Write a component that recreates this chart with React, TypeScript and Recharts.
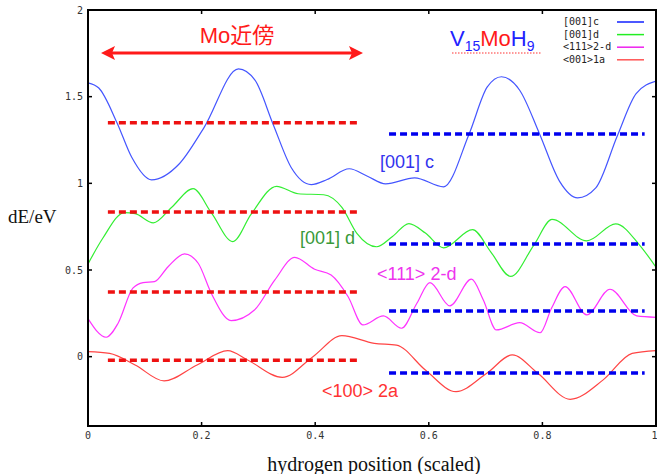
import React from 'react';
import { LineChart, Line, XAxis, YAxis } from 'recharts';

// energy profiles along the hop path, [position, dE]
const path001c: [number, number][] = [
  [0, 1.58], [0.019, 1.55], [0.051, 1.35], [0.077, 1.15], [0.112, 1.02], [0.16, 1.11],
  [0.204, 1.32], [0.265, 1.66], [0.294, 1.595], [0.326, 1.34], [0.358, 1.09], [0.393, 0.993],
  [0.421, 1.022], [0.46, 1.084], [0.492, 1.041], [0.524, 0.997], [0.575, 1.032], [0.626, 0.98],
  [0.671, 1.285], [0.703, 1.556], [0.728, 1.615], [0.76, 1.537], [0.795, 1.285], [0.83, 1.013],
  [0.862, 0.916], [0.894, 0.974], [0.932, 1.275], [0.965, 1.518], [1, 1.59],
];
const path001d: [number, number][] = [
  [0, 0.535], [0.026, 0.683], [0.064, 0.831], [0.083, 0.825], [0.115, 0.772], [0.147, 0.861],
  [0.185, 0.969], [0.217, 0.831], [0.255, 0.664], [0.287, 0.821], [0.332, 0.983], [0.37, 0.94],
  [0.415, 0.934], [0.447, 0.861], [0.473, 0.713], [0.508, 0.634], [0.536, 0.693], [0.565, 0.768],
  [0.594, 0.713], [0.626, 0.628], [0.677, 0.733], [0.709, 0.605], [0.744, 0.463], [0.785, 0.644],
  [0.817, 0.792], [0.878, 0.668], [0.929, 0.766], [0.971, 0.644], [1, 0.516],
];
const path111: [number, number][] = [
  [0, 0.22], [0.032, 0.112], [0.053, 0.193], [0.079, 0.395], [0.097, 0.427], [0.117, 0.433],
  [0.141, 0.519], [0.17, 0.593], [0.194, 0.539], [0.217, 0.366], [0.252, 0.208], [0.293, 0.269],
  [0.329, 0.443], [0.364, 0.573], [0.399, 0.504], [0.428, 0.471], [0.458, 0.346], [0.484, 0.183],
  [0.52, 0.235], [0.552, 0.164], [0.579, 0.308], [0.602, 0.427], [0.637, 0.293], [0.675, 0.447],
  [0.696, 0.327], [0.719, 0.154], [0.76, 0.196], [0.796, 0.138], [0.816, 0.279], [0.84, 0.404],
  [0.878, 0.241], [0.919, 0.389], [0.966, 0.235], [1, 0.227],
];
const path100: [number, number][] = [
  [0, 0.029], [0.038, 0.019], [0.083, -0.048], [0.134, -0.14], [0.192, -0.048], [0.246, 0.035],
  [0.281, -0.019], [0.342, -0.119], [0.396, 0], [0.447, 0.121], [0.504, 0.077], [0.543, 0.067],
  [0.594, -0.077], [0.648, -0.202], [0.702, -0.096], [0.747, 0.01], [0.792, -0.096],
  [0.849, -0.246], [0.907, -0.134], [0.958, 0.019], [1, 0.035],
];

// average levels: near Mo (left half) and away from Mo (right half)
const nearMoLevels = [1.35, 0.835, 0.373, -0.02];
const farLevels = [1.285, 0.65, 0.264, -0.094];
const nearMoSpan = [0.035, 0.475];
const farSpan = [0.53, 0.98];

const xDomain = [0, 1];
const yDomain = [-0.4, 2];
const xTicks = [0, 0.2, 0.4, 0.6, 0.8, 1];
const yTicks = [0, 0.5, 1, 1.5, 2];

const legendNames = ['[001]c', '[001]d', '<111>2-d', '<001>1a'];
const curveColors = ['#4455ff', '#33ee33', '#ff33ff', '#ff4444'];
const legendColors = ['#1020ff', '#22ee22', '#ee22ee', '#ff5555'];

const toPoints = (p: [number, number][]) => p.map(([x, y]) => ({ x, y }));
const levelPoints = (span: number[], y: number) => span.map((x) => ({ x, y }));

const tickFont = { fontFamily: '"DejaVu Sans Mono", monospace', fontSize: 10, fill: '#333' };
const frame = { stroke: '#000', strokeWidth: 2 };
const tickMark = { stroke: '#000', strokeWidth: 1.5 };

// plot box: chart margins + axis sizes put it here
const W = 657;
const H = 474;
const box = { left: 88, top: 10, right: 656, bottom: 426 };
const fx = (v: number) => box.left + ((v - xDomain[0]) / (xDomain[1] - xDomain[0])) * (box.right - box.left);
const fy = (v: number) => box.bottom - ((v - yDomain[0]) / (yDomain[1] - yDomain[0])) * (box.bottom - box.top);

export default function App() {
  const curves = [path001c, path001d, path111, path100];
  return (
    <div style={{ position: 'absolute', left: 0, top: 0, width: W, height: H, background: '#fff' }}>
      <LineChart
        width={W}
        height={H}
        margin={{ top: box.top, right: W - box.right, bottom: 0, left: 0 }}
      >
        <XAxis
          dataKey="x"
          type="number"
          domain={xDomain}
          ticks={xTicks}
          height={H - box.bottom}
          tickSize={-4}
          tickMargin={10}
          axisLine={frame}
          tickLine={tickMark}
          tick={tickFont}
          allowDataOverflow
        />
        <YAxis
          type="number"
          domain={yDomain}
          ticks={yTicks}
          width={box.left}
          tickSize={-4}
          tickMargin={9}
          axisLine={frame}
          tickLine={tickMark}
          tick={tickFont}
          allowDataOverflow
        />
        {curves.map((c, i) => (
          <Line
            key={legendNames[i]}
            data={toPoints(c)}
            dataKey="y"
            type="monotone"
            stroke={curveColors[i]}
            strokeWidth={1.2}
            dot={false}
            isAnimationActive={false}
          />
        ))}
        {nearMoLevels.map((v, i) => (
          <Line
            key={'near' + i}
            data={levelPoints(nearMoSpan, v)}
            dataKey="y"
            stroke="#ee1111"
            strokeWidth={3.5}
            strokeDasharray="7 4"
            dot={false}
            isAnimationActive={false}
          />
        ))}
        {farLevels.map((v, i) => (
          <Line
            key={'far' + i}
            data={levelPoints(farSpan, v)}
            dataKey="y"
            stroke="#0000ee"
            strokeWidth={3.5}
            strokeDasharray="7 4"
            dot={false}
            isAnimationActive={false}
          />
        ))}
      </LineChart>

      <svg width={W} height={H} style={{ position: 'absolute', left: 0, top: 0, pointerEvents: 'none' }}>
        {/* closed frame with inward ticks on top and right */}
        <rect
          x={box.left}
          y={box.top}
          width={box.right - box.left}
          height={box.bottom - box.top}
          fill="none"
          stroke="#000"
          strokeWidth={2}
        />
        {xTicks.map((t) => (
          <line key={'tt' + t} x1={fx(t)} x2={fx(t)} y1={box.top} y2={box.top + 4} stroke="#000" strokeWidth={1.5} />
        ))}
        {yTicks.map((t) => (
          <line key={'rt' + t} x1={box.right - 4} x2={box.right} y1={fy(t)} y2={fy(t)} stroke="#000" strokeWidth={1.5} />
        ))}

        {/* legend */}
        {legendNames.map((name, i) => (
          <g key={name}>
            <text
              x={563}
              y={22 + i * 12.6}
              dominantBaseline="middle"
              fontFamily='"DejaVu Sans Mono", monospace'
              fontSize={10}
              fill="#222"
            >
              {name}
            </text>
            <line x1={617} x2={644} y1={22 + i * 12.6} y2={22 + i * 12.6} stroke={legendColors[i]} strokeWidth={1.5} />
          </g>
        ))}

        {/* axis titles */}
        <text x={8} y={219} dominantBaseline="middle" fontFamily='"Liberation Serif", serif' fontSize={19} fill="#111">
          dE/eV
        </text>
        <text x={374} y={466} textAnchor="middle" dominantBaseline="middle" fontFamily='"Liberation Serif", serif' fontSize={20} fill="#111">
          hydrogen position (scaled)
        </text>

        {/* region near Mo */}
        <text x={237} y={43} textAnchor="middle" fontFamily='"Liberation Sans", "Noto Sans CJK JP", sans-serif' fontSize={22} fill="#ff1a1a">
          Mo近傍
        </text>
        <line x1={110} x2={354} y1={53} y2={53} stroke="#ff1a1a" strokeWidth={3} />
        <polygon points="101,53 115,46 112,53 115,60" fill="#ff1a1a" />
        <polygon points="363,53 349,46 352,53 349,60" fill="#ff1a1a" />

        {/* composition */}
        <text x={450} y={46} fontFamily='"Liberation Sans", sans-serif' fontSize={22}>
          <tspan fill="#2222ff">V</tspan>
          <tspan fill="#2222ff" fontSize={14} dy={5}>15</tspan>
          <tspan fill="#ff1a1a" dy={-5}>Mo</tspan>
          <tspan fill="#2222ff">H</tspan>
          <tspan fill="#2222ff" fontSize={14} dy={5}>9</tspan>
        </text>
        <line x1={452} x2={541} y1={53} y2={53} stroke="#ff3333" strokeWidth={1.2} strokeDasharray="1.5 1.5" />

        {/* curve labels */}
        <text x={380} y={168} fontFamily='"Liberation Sans", sans-serif' fontSize={18} fill="#3333ee">
          [001] c
        </text>
        <text x={300} y={244} fontFamily='"Liberation Sans", sans-serif' fontSize={18} fill="#3a9a3a">
          [001] d
        </text>
        <text x={377} y={280} fontFamily='"Liberation Sans", sans-serif' fontSize={18} fill="#ee33ee">
          {'<111> 2-d'}
        </text>
        <text x={322} y={397} fontFamily='"Liberation Sans", sans-serif' fontSize={18} fill="#ff3333">
          {'<100> 2a'}
        </text>
      </svg>
    </div>
  );
}
